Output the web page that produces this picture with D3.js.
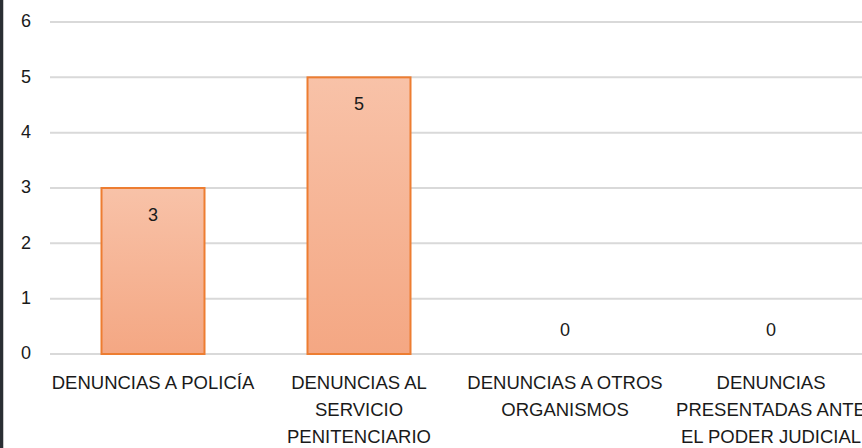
<!DOCTYPE html>
<html>
<head>
<meta charset="UTF-8">
<title></title>
<script src="https://d3js.org/d3.v7.min.js"></script>
<style>
  body { margin: 0; background: #fff; }
  svg text { font-family: "Liberation Sans", Arial, sans-serif; fill: #1a1a1a; }
</style>
</head>
<body>
<div id="chart"></div>
<script>
// data
var categories = ["policia", "servicio", "otros", "judicial"];
var categoryLabels = [
    ["DENUNCIAS A POLICÍA"],
    ["DENUNCIAS AL", "SERVICIO", "PENITENCIARIO"],
    ["DENUNCIAS A OTROS", "ORGANISMOS"],
    ["DENUNCIAS", "PRESENTADAS ANTE", "EL PODER JUDICIAL"]
];
var values = [3, 5, 0, 0];
var yTicks = [0, 1, 2, 3, 4, 5, 6];

var width = 862, height = 448;
var margin = {top: 22, left: 50, bottom: 94};

var rows = categories.map(function(c, i) { return {cat: c, value: values[i], label: categoryLabels[i]}; });

var svg = d3.select("#chart").append("svg")
    .attr("width", width)
    .attr("height", height);

// dark frame strip on the left
svg.append("rect").attr("x", 0).attr("y", 0).attr("width", 3).attr("height", height).attr("fill", "#2a2e33");
svg.append("rect").attr("x", 3).attr("y", 0).attr("width", 1).attr("height", height).attr("fill", "#c8c8c8");

var x = d3.scaleBand()
    .domain(categories)
    .range([margin.left, 874])
    .paddingInner(0.5)
    .paddingOuter(0.25);

var y = d3.scaleLinear()
    .domain([0, 6])
    .range([height - margin.bottom, margin.top]);

var grad = svg.append("defs").append("linearGradient")
    .attr("id", "barGrad")
    .attr("x1", 0).attr("y1", 0).attr("x2", 0).attr("y2", 1);
grad.append("stop").attr("offset", "0%").attr("stop-color", "#f8c2a8");
grad.append("stop").attr("offset", "100%").attr("stop-color", "#f4a783");

// gridlines
svg.append("g")
    .selectAll("line")
    .data(yTicks)
    .join("line")
    .attr("x1", margin.left)
    .attr("x2", width)
    .attr("y1", function(d) { return y(d); })
    .attr("y2", function(d) { return y(d); })
    .attr("stroke", "#d9d9d9")
    .attr("stroke-width", 2);

// y tick labels
svg.append("g")
    .selectAll("text")
    .data(yTicks)
    .join("text")
    .attr("x", 31)
    .attr("y", function(d) { return y(d); })
    .attr("dy", "0.3em")
    .attr("text-anchor", "end")
    .attr("font-size", 18)
    .text(function(d) { return d; });

// bars
svg.append("g")
    .selectAll("rect")
    .data(rows.filter(function(d) { return d.value > 0; }))
    .join("rect")
    .attr("x", function(d) { return x(d.cat); })
    .attr("y", function(d) { return y(d.value); })
    .attr("width", x.bandwidth())
    .attr("height", function(d) { return y(0) - y(d.value); })
    .attr("fill", "url(#barGrad)")
    .attr("stroke", "#ed7d31")
    .attr("stroke-width", 2);

// value labels
svg.append("g")
    .selectAll("text")
    .data(rows)
    .join("text")
    .attr("x", function(d) { return x(d.cat) + x.bandwidth() / 2; })
    .attr("y", function(d) { return d.value > 0 ? y(d.value) + 33 : y(0) - 18; })
    .attr("text-anchor", "middle")
    .attr("font-size", 18)
    .text(function(d) { return d.value; });

// category labels
var labels = svg.append("g")
    .selectAll("text")
    .data(rows)
    .join("text")
    .attr("x", function(d) { return x(d.cat) + x.bandwidth() / 2; })
    .attr("y", 389)
    .attr("text-anchor", "middle")
    .attr("font-size", 18.5);

labels.selectAll("tspan")
    .data(function(d) { return d.label; })
    .join("tspan")
    .attr("x", function() { return d3.select(this.parentNode).attr("x"); })
    .attr("dy", function(d, i) { return i === 0 ? 0 : 27; })
    .text(function(d) { return d; });
</script>
</body>
</html>
